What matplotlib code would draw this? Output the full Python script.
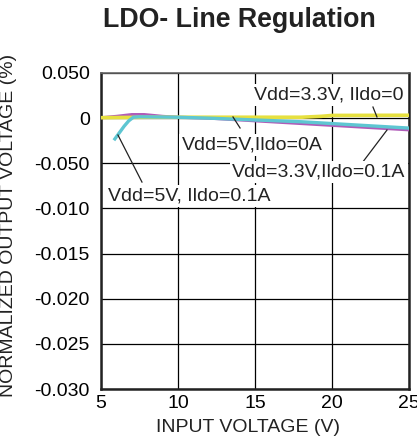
import matplotlib
matplotlib.use("Agg")
import matplotlib.pyplot as plt

plt.rcParams['font.family'] = ['Liberation Sans', 'DejaVu Sans']

# Data
x_yellow = [5, 8, 10, 15, 18, 19.3, 20, 25]
y_yellow = [0.00005, 0.0001, 0.0001, 0.0001, 0.0001, 0.0002, 0.0003, 0.00032]

x_magenta = [5, 6, 7, 7.8, 9, 10, 12, 15, 18, 20, 22, 25]
y_magenta = [0.00005, 0.0002, 0.0004, 0.0004, 0.0002, 0.0001, 0.0, -0.0003, -0.0006, -0.0008, -0.001, -0.0013]

x_cyan = [5.9, 6.2, 6.5, 6.8, 7.1, 7.5, 10, 12, 15, 18, 20, 22, 25]
y_cyan = [-0.0023, -0.0016, -0.0009, -0.0003, 0.0001, 0.00015, 0.0001, 0.0, -0.0002, -0.0004, -0.0006, -0.0008, -0.0011]

xticks = [5, 10, 15, 20, 25]
yticks = [0.005, 0.0, -0.005, -0.010, -0.015, -0.020, -0.025, -0.030]
ytick_labels = ["0.050", "0", "-0.050", "-0.010", "-0.015", "-0.020", "-0.025", "-0.030"]

labels = ["Vdd=3.3V, Ildo=0", "Vdd=5V,Ildo=0A", "Vdd=3.3V,Ildo=0.1A", "Vdd=5V, Ildo=0.1A"]
label_pos = [(19.8, 0.00256), (14.8, -0.00298), (19.16, -0.00597), (10.71, -0.00863)]
leader_start = [(22.66, 0.00123), (14.03, -0.00109), (22.0, -0.00486), (7.66, -0.00708)]
leader_end = [(22.92, 0.00013), (13.57, 0.00013), (23.57, -0.00132), (6.1, -0.00187)]

fig = plt.figure(figsize=(4.17, 4.41), dpi=100)
ax = fig.add_axes([101/417, 1-389/441, 308/417, 316/441])

ax.set_xlim(5, 25)
ax.set_ylim(-0.030, 0.005)
ax.set_xticks(xticks)
ax.set_xticklabels([str(t) for t in xticks], fontsize=14)
ax.set_yticks(yticks)
ax.set_yticklabels(ytick_labels, fontsize=14)
ax.tick_params(length=0)
ax.tick_params(axis='y', pad=8)
ax.tick_params(axis='x', pad=4)

ax.grid(True, color='black', linewidth=0.9)
ax.set_axisbelow(True)

for side in ['left', 'bottom', 'right']:
    ax.spines[side].set_linewidth(1.8)
    ax.spines[side].set_color('#222222')
ax.spines['top'].set_linewidth(1.2)
ax.spines['top'].set_color('#666666')

ax.plot(x_magenta, y_magenta, color='#b05cb8', linewidth=2.2, zorder=3)
ax.plot(x_yellow, y_yellow, color='#e6e040', linewidth=2.6, zorder=4)
ax.plot(x_cyan, y_cyan, color='#5ec6d2', linewidth=2.4, zorder=5)

for (sx, sy), (ex, ey) in zip(leader_start, leader_end):
    ax.plot([sx, ex], [sy, ey], color='#222222', linewidth=0.9, zorder=6)

for txt, (tx, ty) in zip(labels, label_pos):
    ax.text(tx, ty, txt, ha='center', va='center', fontsize=14, color='#222222',
            zorder=7, bbox=dict(facecolor='white', edgecolor='none', pad=1.5))

fig.text(239/417, 1-20/441, "LDO- Line Regulation", ha='center', va='center',
         fontsize=19.3, fontweight='bold', color='#222222')
fig.text(248/417, 1-427/441, "INPUT VOLTAGE (V)", ha='center', va='center',
         fontsize=14, color='#222222')
fig.text(9/417, 1-225/441, "NORMALIZED OUTPUT VOLTAGE (%)", ha='center', va='center',
         rotation=90, fontsize=14, color='#222222')

fig.savefig("out.png", dpi=100)
